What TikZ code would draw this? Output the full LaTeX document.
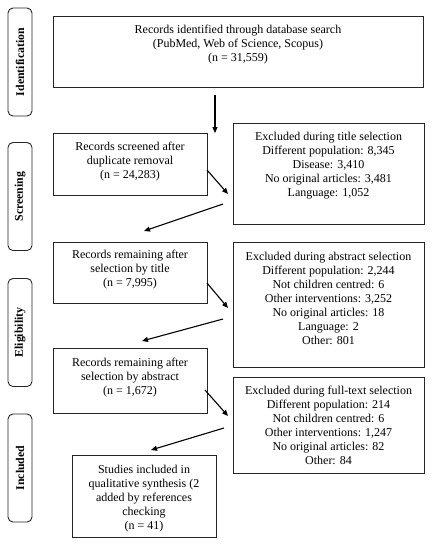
\documentclass[tikz,border=0pt]{standalone}
\usepackage{fontspec}
\setmainfont{Liberation Serif}
\usetikzlibrary{arrows.meta,calc}
\begin{document}
\begin{tikzpicture}[x=1pt,y=-1pt,
  box/.style={draw=black!85,line width=0.9pt,rectangle,inner sep=0pt},
  txt/.style={align=center,font=\fontsize{12}{14}\selectfont,inner sep=0pt},
  side/.style={draw=black!85,line width=0.9pt,rounded corners=5pt,minimum width=24pt,minimum height=108pt,inner sep=0pt},
  sidetxt/.style={rotate=90,font=\fontsize{11.8}{12}\selectfont\bfseries,inner sep=0pt},
  arr/.style={-{Triangle[length=6pt,width=5pt]},line width=1.1pt,black}]
\useasboundingbox (0,0) rectangle (432,550);
\fill[white] (0,0) rectangle (432,550);
% side labels
\node[side] (s1) at (20,62) {};
\node[sidetxt] (s1t) at (s1.center) {Identification};
\node[side] (s2) at (20,196.5) {};
\node[sidetxt] (s2t) at (s2.center) {Screening};
\node[side] (s3) at (20,332.5) {};
\node[sidetxt] (s3t) at (s3.center) {Eligibility};
\node[side] (s4) at (20,468) {};
\node[sidetxt] (s4t) at (s4.center) {Included};
% main boxes
\node[box,minimum width=370pt,minimum height=71pt] (b1) at (238,51.5) {};
\node[txt] (b1t) at (238,44.5) {Records identified through database search\\(PubMed, Web of Science, Scopus)\\(n = 31,559)};
\node[box,minimum width=154pt,minimum height=62pt] (b2) at (130,164) {};
\node[txt] (b2t) at (130,161.5) {Records screened after\\duplicate removal\\(n = 24,283)};
\node[box,minimum width=191pt,minimum height=101pt] (e1) at (328.5,173.5) {};
\node[txt] (e1t) at (328.5,165.5) {Excluded during title selection\\Different population: 8,345\\Disease: 3,410\\No original articles: 3,481\\Language: 1,052};
\node[box,minimum width=154pt,minimum height=61pt] (b3) at (130,272.5) {};
\node[txt] (b3t) at (130,270) {Records remaining after\\selection by title\\(n = 7,995)};
\node[box,minimum width=191pt,minimum height=125pt] (e2) at (328.5,304.5) {};
\node[txt] (e2t) at (328.5,298) {Excluded during abstract selection\\Different population: 2,244\\Not children centred: 6\\Other interventions: 3,252\\No original articles: 18\\Language: 2\\Other: 801};
\node[box,minimum width=154pt,minimum height=65pt] (b4) at (130,380.5) {};
\node[txt] (b4t) at (130,378) {Records remaining after\\selection by abstract\\(n = 1,672)};
\node[box,minimum width=191pt,minimum height=96pt] (e3) at (328.5,425) {};
\node[txt] (e3t) at (328.5,425) {Excluded during full-text selection\\Different population: 214\\Not children centred: 6\\Other interventions: 1,247\\No original articles: 82\\Other: 84};
\node[box,minimum width=144pt,minimum height=82pt] (b5) at (144,496) {};
\node[txt] (b5t) at (144,498.5) {Studies included in\\qualitative synthesis (2\\added by references\\checking\\(n = 41)};
% arrow end points
\coordinate (a0s) at (215,95);
\coordinate (a0e) at (215,133);
\coordinate (a1s) at (207,170);
\coordinate (a1e) at (228,194);
\coordinate (a2s) at (223,204);
\coordinate (a2e) at (144,231);
\coordinate (a3s) at (207,283);
\coordinate (a3e) at (228,308);
\coordinate (a4s) at (223,319);
\coordinate (a4e) at (142,341);
\coordinate (a5s) at (205,390);
\coordinate (a5e) at (228,416);
\coordinate (a6s) at (224,428);
\coordinate (a6e) at (151,450);
\draw[arr] (a0s) -- (a0e);
\draw[arr] (a1s) -- (a1e);
\draw[arr] (a2s) -- (a2e);
\draw[arr] (a3s) -- (a3e);
\draw[arr] (a4s) -- (a4e);
\draw[arr] (a5s) -- (a5e);
\draw[arr] (a6s) -- (a6e);
\end{tikzpicture}
\end{document}
